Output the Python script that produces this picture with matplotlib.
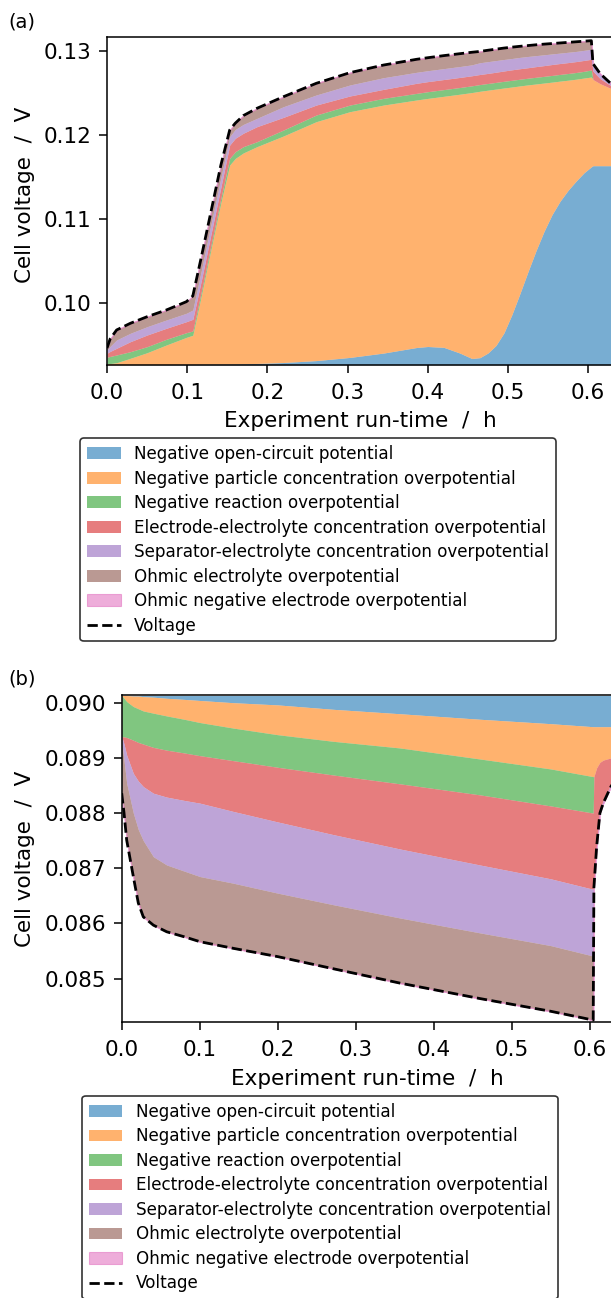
import numpy as np
import matplotlib
matplotlib.use("Agg")
import matplotlib.pyplot as plt

plt.rcParams["font.family"] = "DejaVu Sans"

# ─── Data: panel (a) charge, stacked levels (V) ──────────────────────────────
t_a = [0.000, 0.004, 0.012, 0.029, 0.050, 0.074, 0.099, 0.107, 0.118, 0.130,
       0.142, 0.153, 0.160, 0.170, 0.187, 0.220, 0.261, 0.303, 0.345, 0.386,
       0.400, 0.420, 0.440, 0.455, 0.465, 0.475, 0.485, 0.495, 0.505, 0.515,
       0.525, 0.535, 0.545, 0.555, 0.565, 0.575, 0.585, 0.595, 0.604, 0.606,
       0.615, 0.628, 0.631]

ocv_a = [0.09260, 0.09260, 0.09261, 0.09261, 0.09262, 0.09263, 0.09265, 0.09265,
         0.09266, 0.09267, 0.09268, 0.09269, 0.09270, 0.09272, 0.09276, 0.09287,
         0.09310, 0.09348, 0.09400, 0.09466, 0.09478, 0.09468, 0.09400, 0.09335,
         0.09345, 0.09400, 0.09490, 0.09640, 0.09860, 0.10110, 0.10370, 0.10620,
         0.10850, 0.11050, 0.11210, 0.11340, 0.11450, 0.11550, 0.11620, 0.11633,
         0.11633, 0.11633, 0.11633]

particle_a = [0.09270, 0.09275, 0.09285, 0.09337, 0.09404, 0.09496, 0.09587, 0.09612,
              0.10100, 0.10650, 0.11190, 0.11641, 0.11720, 0.11785, 0.11860, 0.11987,
              0.12158, 0.12277, 0.12356, 0.12416, 0.12435, 0.12460, 0.12485, 0.12505,
              0.12520, 0.12533, 0.12546, 0.12559, 0.12571, 0.12584, 0.12596, 0.12607,
              0.12618, 0.12629, 0.12641, 0.12652, 0.12664, 0.12678, 0.12690, 0.12660,
              0.12610, 0.12555, 0.12545]

reaction_a = [0.09349, 0.09360, 0.09377, 0.09416, 0.09476, 0.09564, 0.09643, 0.09663,
              0.10150, 0.10700, 0.11245, 0.11721, 0.11800, 0.11860, 0.11919, 0.12058,
              0.12237, 0.12356, 0.12436, 0.12495, 0.12515, 0.12540, 0.12565, 0.12585,
              0.12600, 0.12613, 0.12626, 0.12639, 0.12651, 0.12664, 0.12676, 0.12687,
              0.12698, 0.12709, 0.12721, 0.12732, 0.12744, 0.12758, 0.12774, 0.12660,
              0.12610, 0.12555, 0.12545]

elec_conc_a = [0.09397, 0.09420, 0.09457, 0.09535, 0.09615, 0.09695, 0.09774, 0.09802,
               0.10280, 0.10830, 0.11375, 0.11879, 0.11960, 0.12020, 0.12098, 0.12209,
               0.12356, 0.12464, 0.12543, 0.12615, 0.12635, 0.12660, 0.12685, 0.12705,
               0.12720, 0.12733, 0.12747, 0.12762, 0.12776, 0.12789, 0.12801, 0.12814,
               0.12826, 0.12839, 0.12851, 0.12862, 0.12874, 0.12888, 0.12901, 0.12760,
               0.12670, 0.12590, 0.12578]

sep_conc_a = [0.09436, 0.09480, 0.09556, 0.09635, 0.09714, 0.09794, 0.09874, 0.09913,
              0.10400, 0.10950, 0.11490, 0.11979, 0.12065, 0.12125, 0.12197, 0.12336,
              0.12476, 0.12595, 0.12682, 0.12746, 0.12765, 0.12790, 0.12815, 0.12835,
              0.12860, 0.12873, 0.12886, 0.12899, 0.12911, 0.12924, 0.12935, 0.12945,
              0.12955, 0.12965, 0.12975, 0.12985, 0.12995, 0.13008, 0.13020, 0.12850,
              0.12730, 0.12615, 0.12602]

volt_a = [0.09460, 0.09570, 0.09675, 0.09754, 0.09833, 0.09913, 0.10012, 0.10080,
          0.10560, 0.11100, 0.11640, 0.12058, 0.12140, 0.12230, 0.12317, 0.12455,
          0.12615, 0.12742, 0.12833, 0.12901, 0.12920, 0.12945, 0.12968, 0.12985,
          0.12995, 0.13009, 0.13022, 0.13035, 0.13046, 0.13056, 0.13065, 0.13074,
          0.13082, 0.13089, 0.13096, 0.13103, 0.13110, 0.13117, 0.13123, 0.12850,
          0.12730, 0.12615, 0.12602]

# ─── Data: panel (b) discharge ───────────────────────────────────────────────
t_b = [0.000, 0.003, 0.0064, 0.0149, 0.0213, 0.0277, 0.0406, 0.0577, 0.080,
       0.1004, 0.1431, 0.200, 0.2714, 0.3568, 0.4594, 0.550, 0.6046, 0.6055,
       0.6090, 0.6132, 0.6175, 0.6273, 0.630]

ocv_b = [0.09013, 0.09013, 0.09013, 0.09012, 0.09012, 0.09011, 0.09010, 0.09008,
         0.09006, 0.09004, 0.09000, 0.08996, 0.08988, 0.08980, 0.08970, 0.08962,
         0.089565, 0.089565, 0.089565, 0.089565, 0.089565, 0.089565, 0.089565]

particle_b = [0.09013, 0.09008, 0.09002, 0.08993, 0.08989, 0.08985, 0.08981, 0.08976,
              0.08970, 0.08964, 0.08954, 0.08942, 0.08930, 0.08918, 0.08898, 0.08880,
              0.08866, 0.08866, 0.08882, 0.08892, 0.08896, 0.08900, 0.08901]

reaction_b = [0.089385, 0.08938, 0.08937, 0.08932, 0.08928, 0.08925, 0.08919, 0.08914,
              0.08909, 0.08904, 0.08895, 0.08883, 0.08869, 0.08853, 0.08833, 0.08813,
              0.08800, 0.08866, 0.08882, 0.08892, 0.08896, 0.08900, 0.08901]

elec_conc_b = [0.08939, 0.08925, 0.08905, 0.08872, 0.08858, 0.08848, 0.08836, 0.08829,
               0.08823, 0.08818, 0.08803, 0.08784, 0.08761, 0.08735, 0.08706, 0.08681,
               0.08662, 0.08672, 0.08745, 0.08806, 0.08823, 0.08852, 0.08858]

sep_conc_b = [0.08930, 0.08895, 0.08854, 0.08800, 0.08770, 0.08750, 0.08721, 0.08706,
              0.08695, 0.08685, 0.08673, 0.08655, 0.08634, 0.08610, 0.08583, 0.08560,
              0.08541, 0.08665, 0.08739, 0.08800, 0.08818, 0.08848, 0.08854]

volt_b = [0.08836, 0.08800, 0.08751, 0.08685, 0.08637, 0.08612, 0.08597, 0.08585,
          0.08576, 0.08567, 0.08555, 0.08540, 0.08518, 0.08492, 0.08464, 0.08441,
          0.08425, 0.08665, 0.08739, 0.08800, 0.08818, 0.08848, 0.08854]

LABELS = ["Negative open-circuit potential",
          "Negative particle concentration overpotential",
          "Negative reaction overpotential",
          "Electrode-electrolyte concentration overpotential",
          "Separator-electrolyte concentration overpotential",
          "Ohmic electrolyte overpotential",
          "Ohmic negative electrode overpotential"]
COLORS = ["tab:blue", "tab:orange", "tab:green", "tab:red",
          "tab:purple", "tab:brown", "tab:pink"]

# ─── Figure (pixel layout of the cropped original) ───────────────────────────
W, H = 611, 1298
fig = plt.figure(figsize=(W / 100, H / 100), dpi=100)


def px_axes(left, top, right, bottom):
    return fig.add_axes([left / W, 1 - bottom / H, (right - left) / W,
                         (bottom - top) / H])


def draw_panel(ax, t, ocv, levels, volt):
    ax.fill_between(t, ocv[0], ocv, color=COLORS[0], alpha=0.6, lw=0,
                    label=LABELS[0])
    bottom = ocv
    for lvl, col, lab in zip(levels, COLORS[1:6], LABELS[1:6]):
        ax.fill_between(t, bottom, lvl, color=col, alpha=0.6, lw=0, label=lab)
        bottom = lvl
    # ohmic negative electrode term is ~0: thin sliver on the voltage line
    ax.fill_between(t, bottom, volt, color=COLORS[6], alpha=0.6, lw=0.8,
                    label=LABELS[6])
    ax.plot(t, volt, "k--", lw=2.0, label="Voltage")
    ax.set_xlim(t[0], t[-1])
    ax.set_xticks([0.0, 0.1, 0.2, 0.3, 0.4, 0.5, 0.6])
    ax.set_xlabel("Experiment run-time  /  h", fontsize=15.5, labelpad=6)
    ax.set_ylabel("Cell voltage  /  V", fontsize=15.5)
    ax.tick_params(labelsize=15.5, length=6, width=1.1, pad=7)
    ax.tick_params(axis="y", pad=5.2)
    for s in ax.spines.values():
        s.set_linewidth(1.1)


def add_legend(ax, x0, y0):
    leg = ax.legend(loc="upper left", bbox_to_anchor=(x0 / W, 1 - y0 / H),
                    bbox_transform=fig.transFigure, borderaxespad=0,
                    fontsize=12.05, labelspacing=0.39, edgecolor="black",
                    fancybox=True, framealpha=0.8)
    leg.get_frame().set_linewidth(1.2)


# ── (a) ──────────────────────────────────────────────────────────────────────
ax_a = px_axes(107, 37.5, 613, 365)
draw_panel(ax_a, t_a, ocv_a,
           [particle_a, reaction_a, elec_conc_a, sep_conc_a, volt_a], volt_a)
ax_a.set_ylim(0.092575, 0.13161)
ax_a.set_yticks([0.10, 0.11, 0.12, 0.13])
ax_a.yaxis.set_label_coords((35 - 107) / 506, 0.52)
add_legend(ax_a, 80.4, 438.3)
fig.text(8.5 / W, 1 - 13 / H, "(a)", fontsize=14, va="top", ha="left")

# ── (b) ──────────────────────────────────────────────────────────────────────
ax_b = px_axes(121.7, 695.3, 613, 1022.3)
draw_panel(ax_b, t_b, ocv_b,
           [particle_b, reaction_b, elec_conc_b, sep_conc_b, volt_b], volt_b)
ax_b.set_ylim(0.084210, 0.090134)
ax_b.set_yticks([0.085, 0.086, 0.087, 0.088, 0.089, 0.090])
ax_b.yaxis.set_label_coords((35 - 121.7) / 491.3, 0.5)
add_legend(ax_b, 82.3, 1096)
fig.text(8.5 / W, 1 - 669.5 / H, "(b)", fontsize=14, va="top", ha="left")

fig.savefig("out.png", dpi=100)
